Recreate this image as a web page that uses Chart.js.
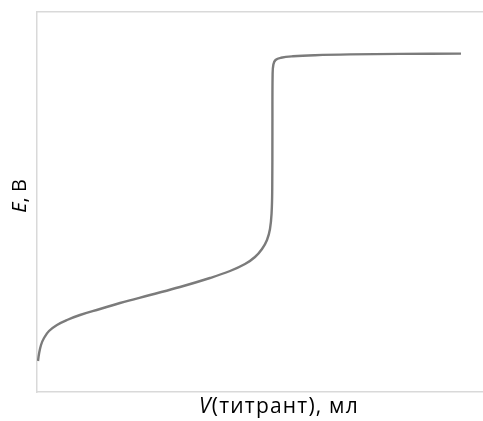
<!DOCTYPE html>
<html>
<head>
<meta charset="utf-8">
<script src="https://cdn.jsdelivr.net/npm/chart.js@4/dist/chart.umd.min.js"></script>
<style>
    html, body { margin: 0; padding: 0; background: #fff; overflow: hidden; }
    #wrap { width: 483px; height: 421px; }
</style>
</head>
<body>
<div id="wrap"><canvas id="curve"></canvas></div>
<script>
// titration curve (arbitrary units)
const titrantVolume = [0.21, 0.41, 0.83, 1.45, 2.48, 4.13, 6.20, 8.88, 13.02, 17.15, 23.35, 29.55, 35.74, 39.88, 42.98, 45.04, 46.49, 47.52, 48.14, 48.47, 48.60, 48.64, 48.68, 48.84, 49.28, 50.41, 52.89, 57.44, 64.67, 75.0, 87.6];
const potential     = [8.16, 10.0, 12.37, 14.21, 16.05, 17.63, 18.95, 20.26, 21.84, 23.42, 25.53, 27.63, 30.0, 31.84, 33.68, 35.53, 37.63, 40.0, 42.89, 47.11, 53.16, 68.95, 83.42, 86.18, 87.37, 87.95, 88.34, 88.63, 88.84, 88.97, 89.05];

const xTitle = [['V', 'italic'], ['(титрант), мл', 'normal']];
const yTitle = [['E', 'italic'], [', В', 'normal']];

const FONT = '"Open Sans", sans-serif';
const borderColor = '#d9d9d9';

// draws a title made of italic + normal parts, centred on (0,0)
function drawParts(ctx, parts, size, spacing) {
    ctx.letterSpacing = spacing + 'px';
    let widths = parts.map(p => {
        ctx.font = `${p[1]} ${size}px ${FONT}`;
        return ctx.measureText(p[0]).width;
    });
    let total = widths.reduce((a, b) => a + b, 0);
    let x = -total / 2;
    parts.forEach((p, i) => {
        ctx.font = `${p[1]} ${size}px ${FONT}`;
        ctx.fillText(p[0], x, 0);
        x += widths[i];
    });
}

const axisTitles = {
    id: 'axisTitles',
    afterDraw(chart) {
        const { ctx, chartArea } = chart;
        // the plot box in the original runs off the right edge, so the title sits right of centre
        ctx.save();
        ctx.fillStyle = '#000';
        ctx.textBaseline = 'alphabetic';
        ctx.textAlign = 'left';
        ctx.translate((chartArea.left + chartArea.right) / 2 + 19, chartArea.bottom + 21);
        drawParts(ctx, xTitle, 21, 1.2);
        ctx.restore();

        ctx.save();
        ctx.fillStyle = '#000';
        ctx.textBaseline = 'alphabetic';
        ctx.textAlign = 'left';
        ctx.translate(26, (chartArea.top + chartArea.bottom) / 2 - 6);
        ctx.rotate(-Math.PI / 2);
        drawParts(ctx, yTitle, 20, 0);
        ctx.restore();
    }
};

new Chart(document.getElementById('curve'), {
    type: 'scatter',
    data: {
        datasets: [{
            data: titrantVolume.map((v, i) => ({ x: v, y: potential[i] })),
            showLine: true,
            borderColor: '#7b7b7b',
            borderWidth: 2.4,
            pointRadius: 0,
            tension: 0.4
        }]
    },
    options: {
        responsive: true,
        maintainAspectRatio: false,
        animation: false,
        layout: { padding: { left: 37, top: 12, bottom: 29, right: 0 } },
        plugins: { legend: { display: false }, tooltip: { enabled: false } },
        scales: {
            x: {
                type: 'linear', min: 0, max: 92.15,
                ticks: { display: false },
                grid: { display: false, drawTicks: false },
                border: { color: borderColor, width: 1.5 }
            },
            xTop: {
                type: 'linear', position: 'top', min: 0, max: 92.15,
                ticks: { display: false },
                grid: { display: false, drawTicks: false },
                border: { color: borderColor, width: 1.5 }
            },
            y: {
                min: 0, max: 100,
                ticks: { display: false },
                grid: { display: false, drawTicks: false },
                border: { color: borderColor, width: 1.5 }
            }
        }
    },
    plugins: [axisTitles]
});
</script>
</body>
</html>
